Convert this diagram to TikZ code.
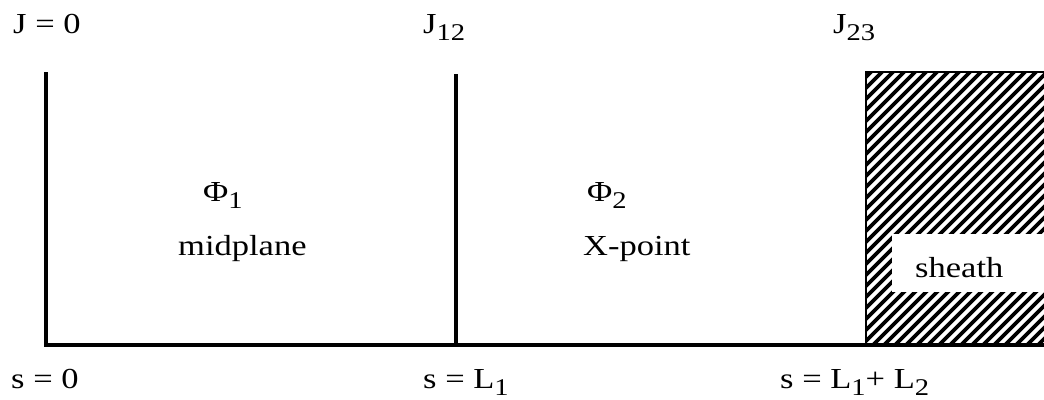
\documentclass[tikz,border=0pt]{standalone}
\usepackage{fontspec}
\setmainfont{Liberation Serif}
\newcommand{\wide}[1]{\scalebox{1.19}[1]{#1}}
\newcommand{\subs}[1]{\raisebox{-7pt}{\fontsize{24}{24}\selectfont #1}}
\begin{document}
\begin{tikzpicture}[x=1pt,y=-1pt,
  lbl/.style={anchor=base west,inner sep=0pt,font=\fontsize{29}{29}\selectfont},
  wall/.style={line width=3.5pt},
  hatchline/.style={line width=3.6pt},
  thin/.style={line width=1.5pt}]
\useasboundingbox (0,0) rectangle (1044,399);
\coordinate (o) at (46,345);
\coordinate (otop) at (46,72);
\coordinate (m) at (456,345);
\coordinate (mtop) at (456,74);
\coordinate (hs) at (866,345);
\coordinate (htop) at (866,72);
\coordinate (rend) at (1044,345);
\coordinate (rtop) at (1044,72);
% hatching
\begin{scope}
  \clip (htop) rectangle (rend);
  \foreach \i in {0,...,45}
    \draw[hatchline] (866+\i*11-290,345) -- ++(290,-290);
\end{scope}
\fill[white] (892,234) rectangle (1046,292);
\draw[thin] (hs) -- (htop) -- (rtop);
% walls
\draw[wall] (otop) -- (o) -- (rend);
\draw[wall] (mtop) -- (m);
% labels
\node[lbl] (j0) at (13,33) {\wide{J = 0}};
\node[lbl] (j12) at (423,33) {\wide{J\subs{12}}};
\node[lbl] (j23) at (833,33) {\wide{J\subs{23}}};
\node[lbl] (p1) at (203,201) {\wide{Φ\subs{1}}};
\node[lbl] (p2) at (587,201) {\wide{Φ\subs{2}}};
\node[lbl] (mid) at (178,255) {\wide{midplane}};
\node[lbl] (xp) at (583,255) {\wide{X-point}};
\node[lbl] (sh) at (915,277) {\wide{sheath}};
\node[lbl] (s0) at (11,388) {\wide{s = 0}};
\node[lbl] (s1) at (423,388) {\wide{s = L\subs{1}}};
\node[lbl] (s2) at (780,388) {\wide{s = L\subs{1}+ L\subs{2}}};
\end{tikzpicture}
\end{document}
